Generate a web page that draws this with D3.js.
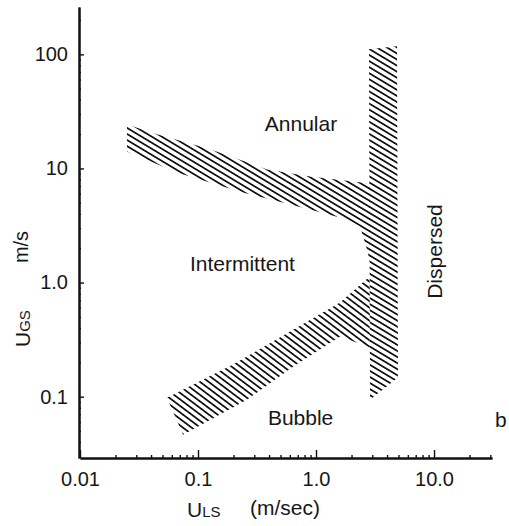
<!DOCTYPE html>
<html>
<head>
<meta charset="utf-8">
<script src="https://cdn.jsdelivr.net/npm/d3@7/dist/d3.min.js"></script>
<style>
  body { margin: 0; background: #fff; }
  svg { display: block; }
  text { font-family: "Liberation Sans", Arial, Helvetica, sans-serif; fill: #161616; }
</style>
</head>
<body>
<svg width="509" height="526"></svg>
<script>
var width = 509;
var height = 526;

// axis ticks (log scales)
var xTicks = [0.01, 0.1, 1, 10];
var xTickLabels = ['0.01', '0.1', '1.0', '10.0'];
var yTicks = [0.1, 1, 10, 100];
var yTickLabels = ['0.1', '1.0', '10', '100'];

// transition bands, [U_LS, U_GS] pairs
var annularBand = [
  [0.025, 24.3], [0.0449, 19.9], [0.1264, 14.7], [0.3843, 9.8], [0.889, 8.5], [2.87, 7.39],
  [2.87, 1.5], [2.705, 1.95], [2.36, 3.10], [1.831, 3.57], [0.889, 4.37], [0.2406, 6.16],
  [0.0664, 9.2], [0.025, 14.1]
];
var bubbleBand = [
  [0.0546, 0.098], [0.198, 0.191], [0.69, 0.403], [1.597, 0.668], [2.85, 1.13],
  [2.86, 0.27], [2.454, 0.286], [1.597, 0.336], [0.638, 0.183], [0.26, 0.094], [0.0747, 0.0464]
];
var dispersedBand = [
  [2.81, 110.7], [4.86, 117.5], [4.95, 0.147], [2.87, 0.094]
];

// region names and where they sit
var regionNames = ['Annular', 'Intermittent', 'Bubble', 'Dispersed', 'b'];
var regionSpots = [[0.746, 21.5], [0.238, 1.25], [0.74, 0.0568], [11.7, 1.87], [32.9, 0.0545]];

var x = d3.scaleLog().domain([0.01, 31]).range([80, 492]);
var y = d3.scaleLog().domain([0.029, 260]).range([458, 7]);

var svg = d3.select('svg');

var defs = svg.append('defs');
var makeHatch = function(id, angle) {
  var p = defs.append('pattern')
    .attr('id', id)
    .attr('patternUnits', 'userSpaceOnUse')
    .attr('width', 20)
    .attr('height', 5.2)
    .attr('patternTransform', 'rotate(' + angle + ')');
  p.append('line')
    .attr('x1', 0).attr('y1', 2.6).attr('x2', 20).attr('y2', 2.6)
    .attr('stroke', '#111')
    .attr('stroke-width', 1.75);
}
makeHatch('hatchA', 31);
makeHatch('hatchB', 37);

var line = d3.line()
  .x(function(d) { return x(d[0]); })
  .y(function(d) { return y(d[1]); })
  .curve(d3.curveLinearClosed);

svg.append('path').attr('d', line(annularBand)).attr('fill', 'url(#hatchA)');
svg.append('path').attr('d', line(bubbleBand)).attr('fill', 'url(#hatchB)');
svg.append('path').attr('d', line(dispersedBand)).attr('fill', 'url(#hatchA)');

// minor ticks
var minorX = [], minorY = [];
[0.01, 0.1, 1, 10].forEach(function(d) {
  for (var k = 2; k <= 9; k++) { if (d * k <= 31) minorX.push(d * k); }
});
[0.01, 0.1, 1, 10, 100].forEach(function(d) {
  for (var k = 2; k <= 9; k++) { if (d * k >= 0.029 && d * k <= 260) minorY.push(d * k); }
});

var styleAxis = function(g) {
  g.select('.domain').attr('stroke', '#111').attr('stroke-width', 2);
  g.selectAll('.tick line').attr('stroke', '#111').attr('stroke-width', 1.4);
  g.selectAll('.tick text').attr('font-size', '20px').attr('fill', '#161616')
    .attr('font-family', '"Liberation Sans", Arial, sans-serif');
}

svg.append('g').attr('transform', 'translate(0,458)')
  .call(d3.axisBottom(x).tickValues(minorX).tickFormat('').tickSize(-3).tickSizeOuter(0))
  .call(styleAxis);
svg.append('g').attr('transform', 'translate(79,0)')
  .call(d3.axisLeft(y).tickValues(minorY).tickFormat('').tickSize(-2).tickSizeOuter(0))
  .call(styleAxis);

svg.append('g').attr('transform', 'translate(0,458)')
  .call(d3.axisBottom(x).tickValues(xTicks)
    .tickFormat(function(d, i) { return xTickLabels[i]; })
    .tickSize(-8).tickPadding(14).tickSizeOuter(0))
  .call(styleAxis);

svg.append('g').attr('transform', 'translate(79,0)')
  .call(d3.axisLeft(y).tickValues(yTicks)
    .tickFormat(function(d, i) { return yTickLabels[i]; })
    .tickSize(-5).tickPadding(11).tickSizeOuter(0))
  .call(styleAxis);

// region labels
regionNames.forEach(function(name, i) {
  var px = x(regionSpots[i][0]), py = y(regionSpots[i][1]);
  var t = svg.append('text').attr('font-size', '21px').text(name);
  if (name === 'Dispersed') {
    t.attr('text-anchor', 'middle').attr('transform', 'translate(' + px + ',' + py + ') rotate(-90)');
  } else if (name === 'b') {
    t.attr('x', px).attr('y', py);
  } else {
    t.attr('text-anchor', 'middle').attr('x', px).attr('y', py);
  }
});

// axis titles
var yTitle = svg.append('text').attr('font-size', '21px')
  .attr('transform', 'translate(30,347) rotate(-90)');
yTitle.append('tspan').text('U');
yTitle.append('tspan').attr('font-size', '15px').text('GS');

svg.append('text').attr('font-size', '20px')
  .attr('text-anchor', 'middle')
  .attr('transform', 'translate(28,247) rotate(-90)')
  .text('m/s');

var xTitle = svg.append('text').attr('font-size', '21px').attr('x', 187).attr('y', 517);
xTitle.append('tspan').text('U');
xTitle.append('tspan').attr('font-size', '15px').text('LS');

svg.append('text').attr('font-size', '21px').attr('x', 250).attr('y', 515).text('(m/sec)');
</script>
</body>
</html>
